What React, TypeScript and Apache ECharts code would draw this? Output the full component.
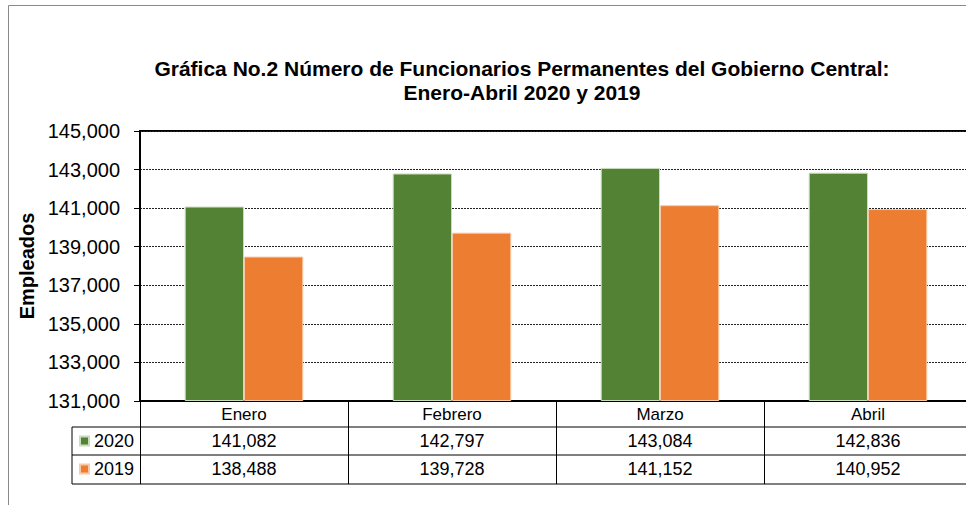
import React, { useEffect, useRef } from "react";
import * as echarts from "echarts";

const categories = ["Enero", "Febrero", "Marzo", "Abril"];
const series2020 = [141082, 142797, 143084, 142836];
const series2019 = [138488, 139728, 141152, 140952];
const seriesNames = ["2020", "2019"];
const yMin = 131000;
const yMax = 145000;
const yStep = 2000;

const fmt = (v: number) => v.toLocaleString("en-US");

export default function App() {
  const ref = useRef<HTMLDivElement>(null);
  useEffect(() => {
    if (!ref.current) return;
    const chart = echarts.init(ref.current, undefined, { renderer: "svg" });
    const font = "Liberation Sans, Arial, sans-serif";
    const tableLines = [427, 455, 484].map((y) => ({
      type: "line",
      shape: { x1: 72, y1: y, x2: 972, y2: y },
      style: { stroke: "#000", lineWidth: 1 },
      silent: true,
    }));
    chart.setOption({
      animation: false,
      backgroundColor: "#fff",
      textStyle: { fontFamily: font },
      title: {
        text: "Gráfica No.2 Número de Funcionarios Permanentes del Gobierno Central:\nEnero-Abril 2020 y 2019",
        left: 517,
        top: 51,
        textAlign: "center",
        textStyle: { fontFamily: font, fontSize: 21, fontWeight: "bold", color: "#000", lineHeight: 24 },
      },
      legend: {
        data: seriesNames,
        orient: "vertical",
        left: 79,
        top: 431,
        padding: 0,
        itemWidth: 9,
        itemHeight: 9,
        itemGap: 8,
        icon: "rect",
        selectedMode: false,
        textStyle: { fontFamily: font, fontSize: 18, color: "#000", lineHeight: 20 },
      },
      grid: {
        left: 140,
        right: 0,
        top: 131,
        bottom: 104,
        show: true,
        borderColor: "#000",
        borderWidth: 2,
        containLabel: false,
      },
      xAxis: {
        type: "category",
        data: categories,
        axisLine: { show: true, lineStyle: { color: "#000", width: 2 } },
        axisTick: { show: true, length: 83, lineStyle: { color: "#000", width: 1 } },
        axisLabel: {
          margin: 0,
          interval: 0,
          formatter: (value: string, index: number) =>
            `{h|${value}}\n{v|${fmt(series2020[index])}}\n{v|${fmt(series2019[index])}}`,
          rich: {
            h: { fontFamily: font, fontSize: 17, color: "#000", lineHeight: 26, align: "center" },
            v: { fontFamily: font, fontSize: 18, color: "#000", lineHeight: 28, align: "center" },
          },
        },
      },
      yAxis: {
        type: "value",
        min: 0,
        max: yMax - yMin,
        interval: yStep,
        name: "Empleados",
        nameLocation: "middle",
        nameGap: 100,
        nameTextStyle: { fontFamily: font, fontSize: 20, fontWeight: "bold", color: "#000" },
        axisLine: { show: true, lineStyle: { color: "#000", width: 2 } },
        axisTick: { show: true, length: 6, lineStyle: { color: "#000" } },
        axisLabel: {
          margin: 20,
          fontFamily: font,
          fontSize: 20,
          color: "#000",
          formatter: (v: number) => fmt(v + yMin),
        },
        splitLine: { show: true, lineStyle: { color: "#222", width: 1, type: [2, 1] } },
      },
      series: [
        {
          name: seriesNames[0],
          type: "bar",
          data: series2020.map((v) => v - yMin),
          barGap: "0%",
          barCategoryGap: "43%",
          itemStyle: { color: "#548235", borderColor: "#c9dcbc", borderWidth: 1 },
        },
        {
          name: seriesNames[1],
          type: "bar",
          data: series2019.map((v) => v - yMin),
          itemStyle: { color: "#ED7D31", borderColor: "#f7c9a6", borderWidth: 1 },
        },
      ],
      graphic: [
        {
          type: "rect",
          shape: { x: 8.5, y: 5.5, width: 1000, height: 600 },
          style: { fill: "none", stroke: "#8a8a8a", lineWidth: 1 },
          silent: true,
          z: -1,
        },
        ...tableLines,
        {
          type: "line",
          shape: { x1: 72, y1: 427, x2: 72, y2: 484 },
          style: { stroke: "#000", lineWidth: 1 },
          silent: true,
        },
      ],
    });
    return () => chart.dispose();
  }, []);
  return (
    <div style={{ position: "absolute", left: 0, top: 0, width: 966, height: 505, overflow: "hidden" }}>
      <div ref={ref} style={{ width: 972, height: 505 }} />
    </div>
  );
}
